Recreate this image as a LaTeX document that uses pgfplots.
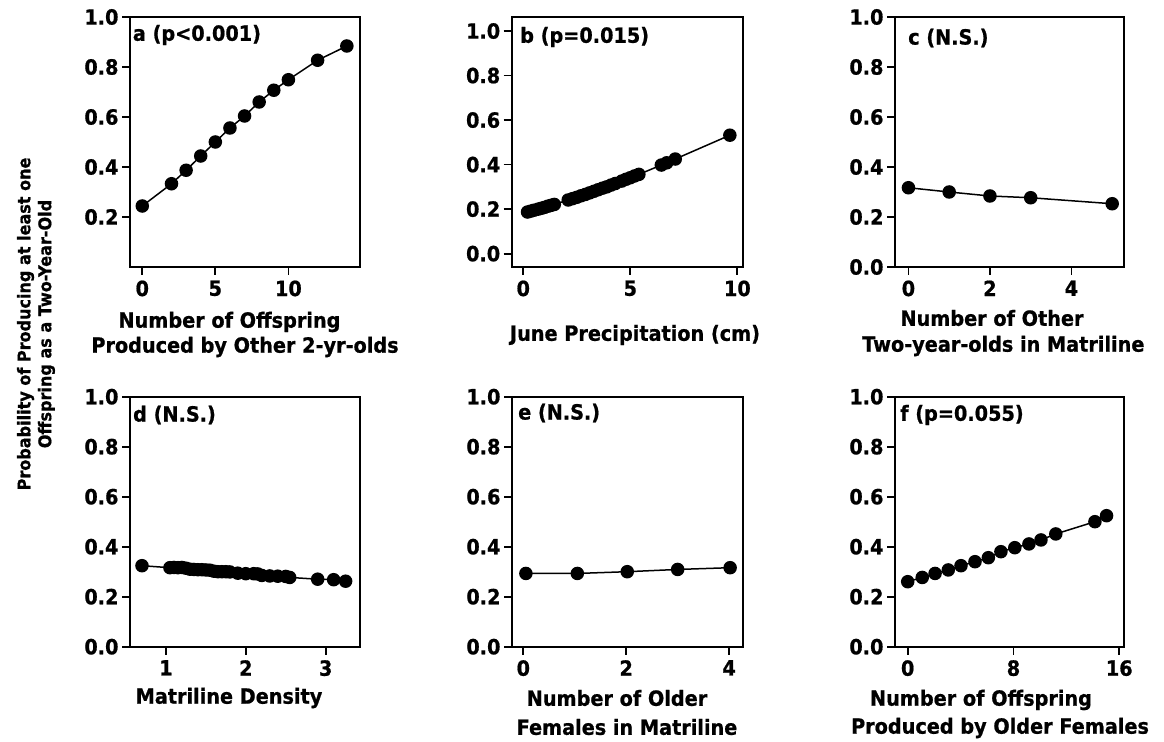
\documentclass[border=0pt]{standalone}
\usepackage{fontspec}
\setmainfont{DejaVu Sans}[FakeStretch=0.92, BoldFeatures={FakeBold=0.8}]
\usepackage{pgfplots}
\pgfplotsset{compat=1.18}
\begin{document}
\begin{tikzpicture}
\useasboundingbox (0bp,0bp) rectangle (1164bp,742bp);
\pgfplotsset{
 panel/.style={scale only axis, height=250bp, ymin=0, ymax=1,
  axis line style={line width=1.8bp}, every tick/.style={line width=1.8bp, black},
  major tick length=8bp, tick align=outside, xtick pos=bottom, ytick pos=left,
  ytick={0,0.2,0.4,0.6,0.8,1.0},
  yticklabel style={/pgf/number format/fixed,/pgf/number format/fixed zerofill,/pgf/number format/precision=1},
  xticklabel style={yshift=-2bp},
  tick label style={font=\bfseries\fontsize{21}{24}\selectfont},
  /pgf/number format/assume math mode=true,
  clip=false,
 },
 curve/.style={black, line width=1.5bp, mark=*, mark size=6bp, mark options={solid, fill=black}}
}
\tikzset{lab/.style={font=\bfseries\fontsize{21}{24}\selectfont, inner sep=0pt}}
% panel a
\begin{axis}[panel, at={(130bp,475bp)}, anchor=south west, width=230bp, xmin=-0.84, xmax=14.9,
  xtick={0,5,10}, ytick={0.2,0.4,0.6,0.8,1.0}]
\addplot[curve] coordinates {(0,0.244)(2,0.333)(3,0.387)(4,0.444)(5,0.5)(6,0.556)(7,0.604)(8,0.66)(9,0.707)(10,0.749)(12,0.827)(14,0.884)};
\end{axis}
% panel b
\begin{axis}[panel, at={(511.7bp,475bp)}, anchor=south west, width=231bp, xmin=-0.54, xmax=10.25, ymin=-0.06, ymax=1.063,
  xtick={0,5,10}]
\addplot[curve] coordinates {(0.2,0.187)(0.35,0.191)(0.5,0.195)(0.7,0.2)(0.85,0.204)(1.0,0.208)(1.15,0.213)(1.3,0.217)(1.45,0.221)
(2.1,0.241)(2.3,0.247)(2.5,0.253)(2.7,0.26)(2.9,0.266)(3.1,0.273)(3.3,0.28)(3.5,0.287)(3.7,0.294)(3.9,0.3)(4.1,0.308)(4.3,0.315)
(4.6,0.326)(4.8,0.334)(5.0,0.341)(5.2,0.349)(5.4,0.356)(6.45,0.398)(6.7,0.408)(7.1,0.425)(9.65,0.532)};
\end{axis}
% panel c
\begin{axis}[panel, at={(895bp,475bp)}, anchor=south west, width=229bp, xmin=-0.33, xmax=5.29,
  xtick={0,2,4}]
\addplot[curve] coordinates {(0,0.317)(1,0.30)(2,0.284)(3,0.277)(5,0.253)};
\end{axis}
% panel d
\begin{axis}[panel, at={(130bp,95.3bp)}, anchor=south west, width=230bp, xmin=0.55, xmax=3.43,
  xtick={1,2,3}]
\addplot[curve] coordinates {(0.70,0.324)(1.05,0.316)(1.1,0.317)(1.15,0.316)(1.2,0.317)(1.25,0.314)(1.3,0.31)(1.35,0.309)(1.4,0.308)(1.45,0.308)(1.5,0.307)(1.55,0.306)(1.6,0.302)(1.65,0.30)(1.7,0.30)(1.75,0.30)(1.8,0.299)(1.9,0.294)(2.0,0.292)(2.1,0.292)(2.15,0.291)(2.2,0.285)(2.3,0.283)(2.4,0.282)(2.5,0.281)(2.55,0.277)(2.9,0.27)(3.1,0.268)(3.25,0.262)};
\end{axis}
% panel e
\begin{axis}[panel, at={(512bp,95.3bp)}, anchor=south west, width=231bp, xmin=-0.22, xmax=4.27,
  xtick={0,2,4}]
\addplot[curve] coordinates {(0.05,0.293)(1.05,0.293)(2.02,0.30)(3,0.309)(4.02,0.316)};
\end{axis}
% panel f
\begin{axis}[panel, at={(895bp,95.3bp)}, anchor=south west, width=229bp, xmin=-0.96, xmax=16.36,
  xtick={0,8,16}]
\addplot[curve] coordinates {(0,0.26)(1.1,0.277)(2.07,0.293)(3.07,0.307)(4.03,0.324)(5.09,0.34)(6.1,0.356)(7.05,0.38)(8.1,0.396)(9.17,0.411)(10.08,0.427)(11.2,0.451)(14.16,0.5)(15.04,0.524)};
\end{axis}
% panel tags
\node[lab, anchor=west] at (132.7bp,707bp) {a (p<0.001)};
\node[lab, anchor=west] at (520bp,705bp) {b (p=0.015)};
\node[lab, anchor=west] at (908bp,704bp) {c (N.S.)};
\node[lab, anchor=west] at (133bp,327bp) {d (N.S.)};
\node[lab, anchor=west] at (518bp,329bp) {e (N.S.)};
\node[lab, anchor=west] at (900bp,327bp) {f (p=0.055)};
% x labels
\node[lab] at (229.5bp,420bp) {Number of Offspring};
\node[lab] at (245bp,395bp) {Produced by Other 2-yr-olds};
\node[lab] at (635bp,407bp) {June Precipitation (cm)};
\node[lab] at (992bp,424bp) {Number of Other};
\node[lab, anchor=west] at (862bp,396bp) {Two-year-olds in Matriline};
\node[lab] at (229bp,44bp) {Matriline Density};
\node[lab] at (617bp,44bp) {Number of Older};
\node[lab] at (627bp,15bp) {Females in Matriline};
\node[lab] at (981bp,42bp) {Number of Offspring};
\node[lab] at (1000bp,14bp) {Produced by Older Females};
% y label
\node[rotate=90, align=center, font=\bfseries\fontsize{17.5}{21}\selectfont] at (36bp,418bp) {Probability of Producing at least one\\Offspring as a Two-Year-Old};
\end{tikzpicture}
\end{document}
